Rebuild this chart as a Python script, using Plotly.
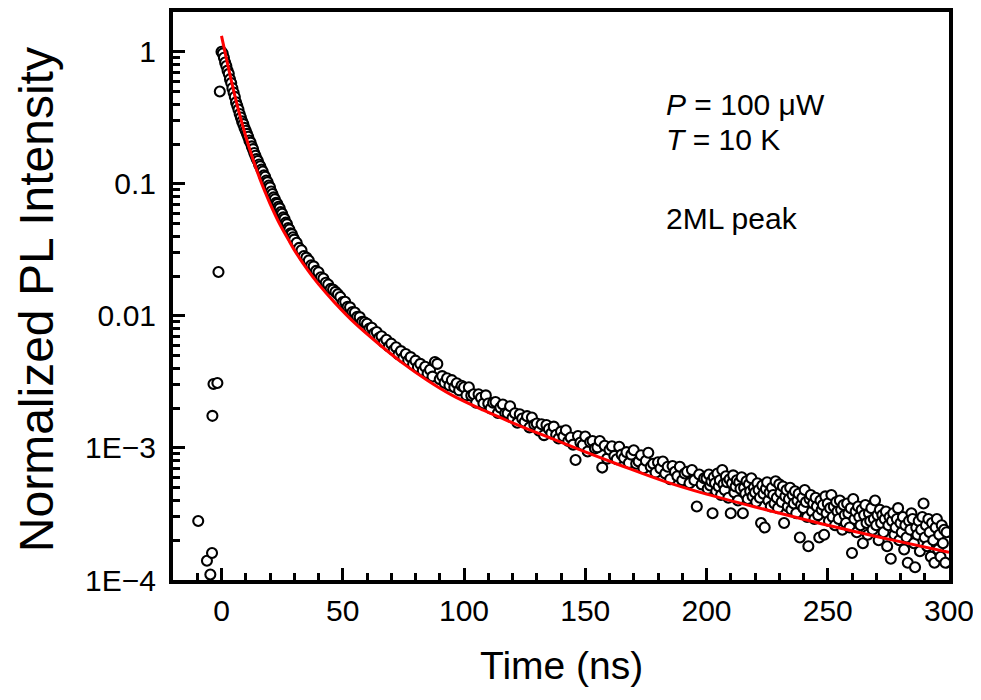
import plotly.graph_objects as go

# PL decay, 2ML peak (P = 100 uW, T = 10 K)
t_rise = [-9.6, -6.0, -4.6, -3.9, -3.75, -3.3, -1.7, -1.25, -0.7]
y_rise = [2.8e-4, 1.4e-4, 1.1e-4, 1.6e-4, 1.75e-3, 3.05e-3, 3.1e-3, 0.0215, 0.50]

t_fast = [0, 0.5, 1, 1.5, 2, 2.5, 3, 3.5, 4, 4.5,
          5, 5.5, 6, 6.5, 7, 7.5, 8, 8.5, 9, 9.5,
          10, 10.5, 11, 11.5, 12, 12.5, 13, 13.5, 14, 14.5,
          15, 15.5, 16, 16.5, 17, 17.5, 18, 18.5, 19, 19.5,
          20, 20.5, 21, 21.5, 22, 22.5, 23, 23.5, 24, 24.5,
          25, 25.5, 26, 26.5, 27, 27.5, 28, 28.5, 29, 29.5]
y_fast = [1.00, 0.97, 0.90, 0.83, 0.78, 0.72, 0.68, 0.62, 0.58, 0.53,
          0.49, 0.455, 0.415, 0.39, 0.365, 0.338, 0.318, 0.297, 0.283, 0.265,
          0.252, 0.239, 0.227, 0.213, 0.205, 0.192, 0.183, 0.171, 0.163, 0.154,
          0.149, 0.140, 0.136, 0.128, 0.124, 0.116, 0.113, 0.106, 0.103, 0.0970,
          0.0940, 0.0875, 0.0838, 0.0790, 0.0765, 0.0718, 0.0705, 0.0670, 0.0652, 0.0612,
          0.0594, 0.0557, 0.0542, 0.0508, 0.0495, 0.0463, 0.0451, 0.0422, 0.0416, 0.0394]

t_mid = [30, 31, 32, 33, 34, 35, 36, 37, 38, 39,
         40, 41, 42, 43, 44, 45, 46, 47, 48, 49,
         50, 51, 52, 53, 54, 55, 56, 57, 58, 59,
         60, 61, 62, 63, 64, 65, 66, 67, 68, 69,
         70, 71, 72, 73, 74, 75, 76, 77, 78, 79,
         80, 81, 82, 83, 84, 85, 86, 87, 88, 89,
         90, 91, 92, 93, 94, 95, 96, 97, 98, 99,
         100, 101, 102, 103, 104, 105, 106, 107, 108, 109,
         110, 111, 112, 113, 114, 115, 116, 117, 118, 119,
         120, 121, 122, 123, 124, 125, 126, 127, 128, 129,
         130, 131, 132, 133, 134, 135, 136, 137, 138, 139,
         140, 141, 142, 143, 144, 145, 146, 147, 148, 149,
         150, 151, 152, 153, 154, 155, 156, 157, 158, 159,
         160, 161, 162, 163, 164, 165, 166, 167, 168, 169,
         170, 171, 172, 173, 174, 175, 176, 177, 178, 179,
         180, 181, 182, 183, 184, 185, 186, 187, 188, 189,
         190, 191, 192, 193, 194, 195, 196, 197, 198, 199]
y_mid = [0.0378, 0.0358, 0.0327, 0.0314, 0.0284, 0.0276, 0.0263, 0.0242, 0.0237, 0.0219,
         0.0214, 0.0196, 0.0192, 0.0178, 0.0173, 0.0160, 0.0158, 0.0152, 0.0146, 0.0139,
         0.0127, 0.0128, 0.0117, 0.0116, 0.0107, 0.0106, 0.00985, 0.00978, 0.00902, 0.00895,
         0.00872, 0.00801, 0.00812, 0.00738, 0.00755, 0.00682, 0.00701, 0.00628, 0.00660, 0.00587,
         0.00616, 0.00551, 0.00578, 0.00510, 0.00541, 0.00482, 0.00515, 0.00459, 0.00487, 0.00428,
         0.00458, 0.00409, 0.00433, 0.00384, 0.00412, 0.00366, 0.00391, 0.00347, 0.00448, 0.00433,
         0.00331, 0.00350, 0.00311, 0.00337, 0.00297, 0.00326, 0.00288, 0.00309, 0.00273, 0.00296,
         2.88e-3, 2.50e-3, 2.88e-3, 2.49e-3, 2.55e-3, 2.20e-3, 2.55e-3, 2.40e-3, 2.17e-3, 2.50e-3,
         2.17e-3, 1.99e-3, 2.20e-3, 2.23e-3, 1.84e-3, 2.02e-3, 2.13e-3, 1.83e-3, 1.83e-3, 2.07e-3,
         1.69e-3, 1.83e-3, 1.55e-3, 1.80e-3, 1.67e-3, 1.57e-3, 1.74e-3, 1.43e-3, 1.70e-3, 1.50e-3,
         1.53e-3, 1.35e-3, 1.51e-3, 1.25e-3, 1.49e-3, 1.39e-3, 1.29e-3, 1.45e-3, 1.26e-3, 1.18e-3,
         1.33e-3, 1.22e-3, 1.36e-3, 1.13e-3, 1.20e-3, 1.06e-3, 0.81e-3, 1.23e-3, 1.10e-3, 1.05e-3,
         1.22e-3, 0.94e-3, 1.11e-3, 1.13e-3, 0.99e-3, 1.01e-3, 1.13e-3, 0.71e-3, 1.04e-3, 0.83e-3,
         0.97e-3, 1.03e-3, 0.87e-3, 0.82e-3, 1.02e-3, 0.89e-3, 0.84e-3, 0.93e-3, 0.77e-3, 0.89e-3,
         0.96e-3, 0.76e-3, 0.79e-3, 0.88e-3, 0.70e-3, 0.80e-3, 0.92e-3, 0.72e-3, 0.76e-3, 0.65e-3,
         0.78e-3, 0.70e-3, 0.79e-3, 0.64e-3, 0.72e-3, 0.58e-3, 0.73e-3, 0.66e-3, 0.61e-3, 0.72e-3,
         0.57e-3, 0.64e-3, 0.66e-3, 0.54e-3, 0.68e-3, 0.57e-3, 0.36e-3, 0.63e-3, 0.53e-3, 0.59e-3]

t_tail = [200.0, 200.5, 201.0, 201.5, 202.0, 202.5, 203.0, 203.5, 204.0, 204.5,
          205.0, 205.5, 206.0, 206.5, 207.0, 207.5, 208.0, 208.5, 209.0, 209.5,
          210.0, 210.5, 211.0, 211.5, 212.0, 212.5, 213.0, 213.5, 214.0, 214.5,
          215.0, 215.5, 216.0, 216.5, 217.0, 217.5, 218.0, 218.5, 219.0, 219.5,
          220.0, 220.5, 221.0, 221.5, 222.0, 222.5, 223.0, 223.5, 224.0, 224.5,
          225.0, 225.5, 226.0, 226.5, 227.0, 227.5, 228.0, 228.5, 229.0, 229.5,
          230.0, 230.5, 231.0, 231.5, 232.0, 232.5, 233.0, 233.5, 234.0, 234.5,
          235.0, 235.5, 236.0, 236.5, 237.0, 237.5, 238.0, 238.5, 239.0, 239.5,
          240.0, 240.5, 241.0, 241.5, 242.0, 242.5, 243.0, 243.5, 244.0, 244.5,
          245.0, 245.5, 246.0, 246.5, 247.0, 247.5, 248.0, 248.5, 249.0, 249.5,
          250.0, 250.5, 251.0, 251.5, 252.0, 252.5, 253.0, 253.5, 254.0, 254.5,
          255.0, 255.5, 256.0, 256.5, 257.0, 257.5, 258.0, 258.5, 259.0, 259.5,
          260.0, 260.5, 261.0, 261.5, 262.0, 262.5, 263.0, 263.5, 264.0, 264.5,
          265.0, 265.5, 266.0, 266.5, 267.0, 267.5, 268.0, 268.5, 269.0, 269.5,
          270.0, 270.5, 271.0, 271.5, 272.0, 272.5, 273.0, 273.5, 274.0, 274.5,
          275.0, 275.5, 276.0, 276.5, 277.0, 277.5, 278.0, 278.5, 279.0, 279.5,
          280.0, 280.5, 281.0, 281.5, 282.0, 282.5, 283.0, 283.5, 284.0, 284.5,
          285.0, 285.5, 286.0, 286.5, 287.0, 287.5, 288.0, 288.5, 289.0, 289.5,
          290.0, 290.5, 291.0, 291.5, 292.0, 292.5, 293.0, 293.5, 294.0, 294.5,
          295.0, 295.5, 296.0, 296.5, 297.0, 297.5, 298.0, 298.5, 299.0]
y_tail = [5.9e-4, 4.9e-4, 6.3e-4, 5.2e-4, 5.6e-4, 3.2e-4, 6.0e-4, 5.4e-4, 4.7e-4, 6.4e-4,
          5.1e-4, 5.7e-4, 4.4e-4, 6.8e-4, 5.3e-4, 4.8e-4, 6.1e-4, 5.5e-4, 4.2e-4, 5.8e-4,
          3.2e-4, 5.4e-4, 6.2e-4, 4.6e-4, 5.1e-4, 5.7e-4, 4.0e-4, 5.5e-4, 4.9e-4, 6.0e-4,
          3.2e-4, 5.0e-4, 4.5e-4, 5.6e-4, 4.1e-4, 5.3e-4, 4.7e-4, 5.9e-4, 4.3e-4, 5.0e-4,
          4.6e-4, 3.9e-4, 5.4e-4, 4.8e-4, 4.2e-4, 2.7e-4, 5.2e-4, 4.5e-4, 2.5e-4, 4.9e-4,
          5.5e-4, 4.0e-4, 4.6e-4, 3.6e-4, 5.0e-4, 4.4e-4, 3.8e-4, 5.6e-4, 4.2e-4, 3.5e-4,
          5.3e-4, 4.6e-4, 3.9e-4, 5.1e-4, 2.7e-4, 4.3e-4, 4.8e-4, 3.6e-4, 4.1e-4, 5.0e-4,
          3.4e-4, 4.4e-4, 3.8e-4, 4.7e-4, 3.2e-4, 4.0e-4, 4.5e-4, 2.1e-4, 3.7e-4, 4.2e-4,
          3.5e-4, 4.8e-4, 3.9e-4, 3.0e-4, 1.8e-4, 4.1e-4, 4.4e-4, 3.3e-4, 3.8e-4, 2.9e-4,
          4.2e-4, 3.6e-4, 3.1e-4, 2.1e-4, 4.0e-4, 3.4e-4, 3.7e-4, 2.2e-4, 4.3e-4, 3.2e-4,
          3.8e-4, 2.8e-4, 3.5e-4, 4.4e-4, 3.0e-4, 3.6e-4, 2.6e-4, 3.9e-4, 3.3e-4, 2.9e-4,
          4.0e-4, 3.4e-4, 2.4e-4, 3.7e-4, 3.1e-4, 2.7e-4, 3.8e-4, 3.2e-4, 2.5e-4, 3.5e-4,
          1.6e-4, 4.1e-4, 2.9e-4, 3.3e-4, 2.3e-4, 3.6e-4, 3.0e-4, 2.6e-4, 3.4e-4, 1.9e-4,
          3.1e-4, 3.7e-4, 2.7e-4, 2.2e-4, 3.2e-4, 2.8e-4, 3.5e-4, 2.4e-4, 2.9e-4, 4.0e-4,
          2.6e-4, 3.1e-4, 2.0e-4, 3.4e-4, 2.7e-4, 3.1e-4, 2.3e-4, 2.9e-4, 3.3e-4, 1.8e-4,
          2.6e-4, 3.0e-4, 1.45e-4, 2.8e-4, 3.2e-4, 2.2e-4, 2.5e-4, 2.9e-4, 3.5e-4, 2.0e-4,
          2.7e-4, 2.3e-4, 3.0e-4, 1.7e-4, 2.6e-4, 2.1e-4, 1.35e-4, 2.8e-4, 2.4e-4, 3.2e-4,
          2.9e-4, 1.9e-4, 1.25e-4, 2.5e-4, 2.2e-4, 2.8e-4, 1.65e-4, 2.4e-4, 3.0e-4, 3.8e-4,
          2.1e-4, 2.6e-4, 1.8e-4, 2.9e-4, 2.3e-4, 1.5e-4, 2.7e-4, 2.0e-4, 1.35e-4, 2.5e-4,
          2.9e-4, 1.7e-4, 2.2e-4, 1.5e-4, 2.6e-4, 1.9e-4, 2.4e-4, 1.35e-4, 2.3e-4]

# fit curve (red)
t_fit = [0, 2, 4, 6, 8, 10, 12, 14, 16, 18, 20, 24, 27.5, 30, 35.8, 40, 46.7, 55, 65,
         74.6, 85, 95, 108, 120, 135, 150, 165, 183, 200, 225, 250, 275, 300]
y_fit = [1.318, 0.891, 0.610, 0.427, 0.309, 0.229, 0.174, 0.135, 0.107, 0.0865, 0.0708,
         0.0495, 0.0380, 0.0316, 0.0219, 0.0174, 0.0126, 0.00881, 0.00610, 0.00441,
         0.00324, 0.00251, 0.00193, 0.00155, 0.00120, 0.000933, 0.000733, 0.000556,
         0.000447, 0.000339, 0.000260, 0.000204, 0.000162]

y_tickvals = [1, 0.1, 0.01, 1e-3, 1e-4]
y_ticktext = ["1", "0.1", "0.01", "1E\u22123", "1E\u22124"]

t_all = t_rise + t_fast + t_mid + t_tail
y_all = y_rise + y_fast + y_mid + y_tail

# minor ticks 2..9 in every decade
y_minor = [m * 10.0 ** e for e in range(-4, 1) for m in range(2, 10)]

SANS = "Liberation Sans, Arial"

fig = go.Figure()
fig.add_scatter(x=t_all, y=y_all, mode="markers",
                marker=dict(symbol="circle", size=10, color="white",
                            line=dict(color="black", width=2.1)))
fig.add_scatter(x=t_fit, y=y_fit, mode="lines",
                line=dict(color="#ff0000", width=3, shape="spline"))

# the page body adds an 8px offset, so the figure is 8px smaller
fig.update_layout(width=973, height=692, showlegend=False,
                  margin=dict(l=165, r=32, t=4, b=120),
                  plot_bgcolor="white", paper_bgcolor="white",
                  font=dict(family=SANS, color="black"))

fig.update_xaxes(range=[-20, 300], tickmode="linear", tick0=0, dtick=50,
                 ticks="inside", ticklen=12, tickwidth=3, tickcolor="black",
                 showline=True, linewidth=4, linecolor="black", mirror=True,
                 showgrid=False, zeroline=False, ticklabelstandoff=1, automargin=False,
                 tickfont=dict(family=SANS, size=30),
                 minor=dict(tick0=0, dtick=10, ticks="inside", ticklen=7,
                            tickwidth=2.5, tickcolor="black", showgrid=False))

fig.update_yaxes(type="log", range=[-4, 0.301], tickmode="array",
                 tickvals=y_tickvals, ticktext=y_ticktext,
                 ticks="inside", ticklen=12, tickwidth=3, tickcolor="black",
                 showline=True, linewidth=4, linecolor="black", mirror=True,
                 showgrid=False, zeroline=False, ticklabelstandoff=7, automargin=False,
                 tickfont=dict(family=SANS, size=30),
                 minor=dict(tickmode="array", tickvals=y_minor, ticks="inside", ticklen=7,
                            tickwidth=2.5, tickcolor="black", showgrid=False))

# axis titles
fig.add_annotation(text="Time (ns)", xref="paper", yref="paper", x=0.5, y=-0.15,
                   xanchor="center", yanchor="middle", showarrow=False,
                   font=dict(family=SANS, size=39))
fig.add_annotation(text="Normalized PL Intensity", xref="paper", yref="paper",
                   x=-0.175, y=0.493, textangle=-90, xanchor="center", yanchor="middle",
                   showarrow=False, borderpad=0, font=dict(family=SANS, size=48))

# conditions
fig.add_annotation(text="<i>P</i> = 100 \u03bcW", xref="paper", yref="paper",
                   x=0.633, y=0.838, xanchor="left", yanchor="middle", showarrow=False,
                   font=dict(size=30))
fig.add_annotation(text="<i>T</i> = 10 K", xref="paper", yref="paper",
                   x=0.633, y=0.776, xanchor="left", yanchor="middle", showarrow=False,
                   font=dict(size=30))
fig.add_annotation(text="2ML peak", xref="paper", yref="paper",
                   x=0.633, y=0.637, xanchor="left", yanchor="middle", showarrow=False,
                   font=dict(size=30))

fig.write_html("out.html")
